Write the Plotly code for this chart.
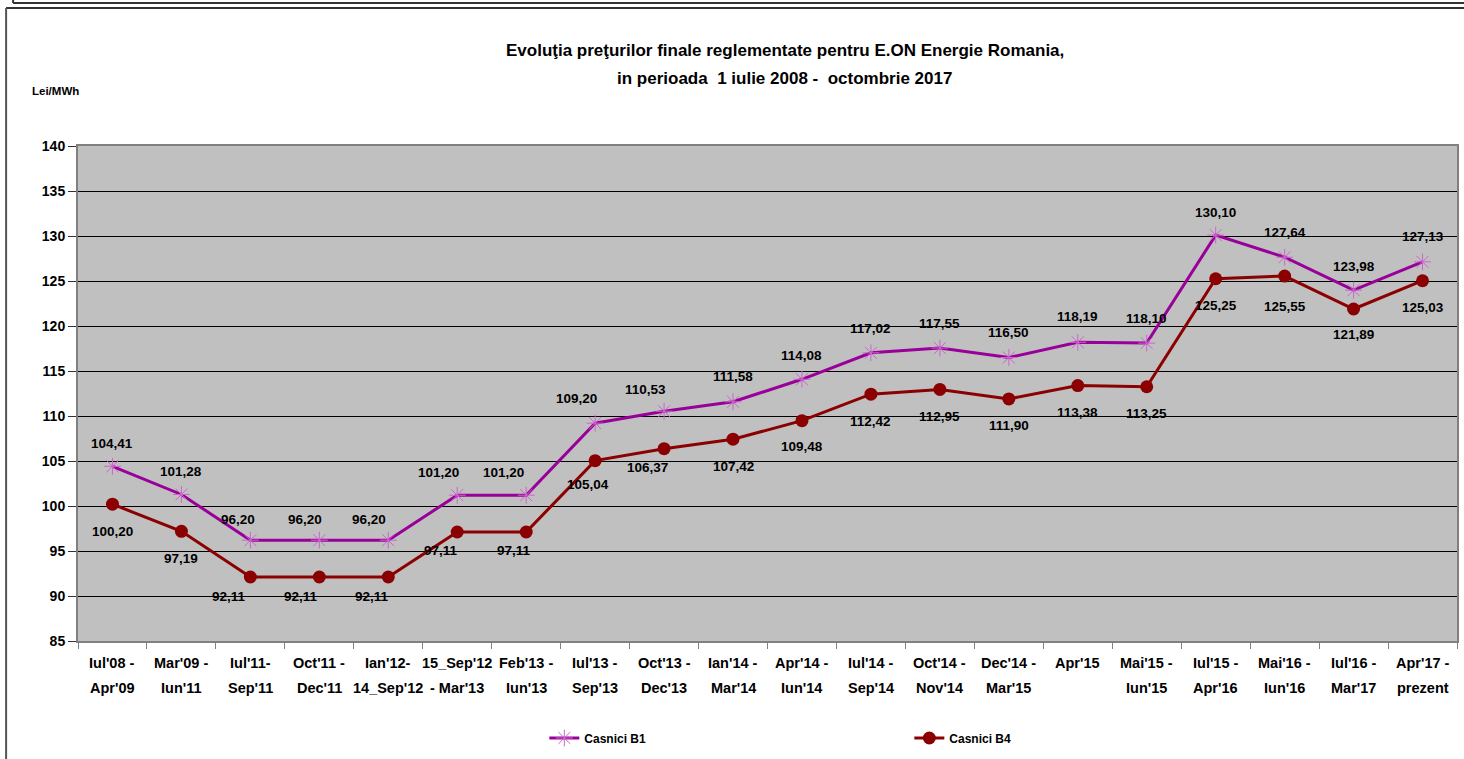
import plotly.graph_objects as go

label_line1 = [
    "Iul'08 -", "Mar'09 -", "Iul'11-", "Oct'11 -", "Ian'12-", "15_Sep'12", "Feb'13 -",
    "Iul'13 -", "Oct'13 -", "Ian'14 -", "Apr'14 -", "Iul'14 -", "Oct'14 -", "Dec'14 -",
    "Apr'15", "Mai'15 -", "Iul'15 -", "Mai'16 -", "Iul'16 -", "Apr'17 -",
]
label_line2 = [
    "Apr'09", "Iun'11", "Sep'11", "Dec'11", "14_Sep'12", "- Mar'13", "Iun'13",
    "Sep'13", "Dec'13", "Mar'14", "Iun'14", "Sep'14", "Nov'14", "Mar'15",
    "", "Iun'15", "Apr'16", "Iun'16", "Mar'17", "prezent",
]
categories = [a + " " + b for a, b in zip(label_line1, label_line2)]
b1_values = [104.41, 101.28, 96.20, 96.20, 96.20, 101.20, 101.20, 109.20, 110.53, 111.58,
             114.08, 117.02, 117.55, 116.50, 118.19, 118.10, 130.10, 127.64, 123.98, 127.13]
b4_values = [100.20, 97.19, 92.11, 92.11, 92.11, 97.11, 97.11, 105.04, 106.37, 107.42,
             109.48, 112.42, 112.95, 111.90, 113.38, 113.25, 125.25, 125.55, 121.89, 125.03]
y_ticks = [85, 90, 95, 100, 105, 110, 115, 120, 125, 130, 135, 140]

# label offsets (pixels) – styling only
b1_dx = [0, 0, -12, -14, -19, -19, -23, -19, -19, 0, 0, 0, 0, 0, 0, 0, 0, 0, 0, 0]
b1_dy = [23, 23, 21, 21, 21, 23, 23, 25, 22, 25, 24, 24, 25, 25, 26, 25, 23, 25, 24, 25]
b4_dx = [0, 0, -21, -18, -16, -16, -12, -7, -17, 0, 0, 0, 0, 0, 0, 0, 0, 0, 0, 0]
b4_dy = [27, 27, 19, 19, 19, 18, 18, 24, 19, 27, 26, 27, 27, 27, 27, 27, 27, 30, 26, 27]

FONT = "Liberation Sans, Arial, sans-serif"
W, H = 1464, 759
L, R, T, B = 78, 5, 146, 118
PW, PH = W - L - R, H - T - B


def px(x):
    return (x - L) / PW


def py(y):
    return (H - B - y) / PH


def fmt(v):
    return f"{v:.2f}".replace(".", ",")


def bold(size):
    return dict(family=FONT, size=size, color="#000000", weight="bold")


fig = go.Figure()
fig.add_trace(go.Scatter(
    x=categories, y=b1_values, name="Casnici B1", mode="lines+markers",
    line=dict(color="#990099", width=3),
    marker=dict(symbol="asterisk-open", size=14, color="#CC66CC", line=dict(color="#CC66CC", width=1)),
))
fig.add_trace(go.Scatter(
    x=categories, y=b4_values, name="Casnici B4", mode="lines+markers",
    line=dict(color="#8B0000", width=3),
    marker=dict(symbol="circle", size=13, color="#8B0000"),
))

annotations = []
for i, c in enumerate(categories):
    annotations.append(dict(x=c, y=b1_values[i], text=fmt(b1_values[i]), showarrow=False,
                            xanchor="center", yanchor="middle",
                            xshift=b1_dx[i], yshift=b1_dy[i], font=bold(13.5)))
    annotations.append(dict(x=c, y=b4_values[i], text=fmt(b4_values[i]), showarrow=False,
                            xanchor="center", yanchor="middle",
                            xshift=b4_dx[i], yshift=-b4_dy[i], font=bold(13.5)))
    annotations.append(dict(x=c, xref="x", yref="paper", y=0, yshift=-22, text=label_line1[i],
                            showarrow=False, xanchor="center", yanchor="middle", font=bold(14.5)))
    if label_line2[i]:
        annotations.append(dict(x=c, xref="x", yref="paper", y=0, yshift=-47, text=label_line2[i],
                                showarrow=False, xanchor="center", yanchor="middle", font=bold(14.5)))

annotations.append(dict(xref="paper", yref="paper", x=px(786), y=py(50),
                        text="Evoluţia preţurilor finale reglementate pentru E.ON Energie Romania,",
                        showarrow=False, xanchor="center", yanchor="middle", font=bold(17)))
annotations.append(dict(xref="paper", yref="paper", x=px(786), y=py(78),
                        text="in perioada  1 iulie 2008 -  octombrie 2017",
                        showarrow=False, xanchor="center", yanchor="middle", font=bold(17)))
annotations.append(dict(xref="paper", yref="paper", x=px(30), y=py(91),
                        text="Lei/MWh", showarrow=False, xanchor="left", yanchor="middle",
                        font=bold(11.5)))

shapes = [
    dict(type="line", xref="paper", yref="paper", x0=px(13), x1=px(1470), y0=py(3), y1=py(3),
         line=dict(color="#333333", width=2)),
    dict(type="line", xref="paper", yref="paper", x0=px(13), x1=px(13), y0=py(-5), y1=py(3),
         line=dict(color="#333333", width=2)),
    dict(type="line", xref="paper", yref="paper", x0=px(6), x1=px(1470), y0=py(8), y1=py(8),
         line=dict(color="#333333", width=2)),
    dict(type="line", xref="paper", yref="paper", x0=px(6), x1=px(6), y0=py(8), y1=py(770),
         line=dict(color="#555555", width=2)),
]

fig.update_layout(
    width=W, height=H,
    margin=dict(l=L, r=R, t=T, b=B),
    paper_bgcolor="#FFFFFF", plot_bgcolor="#C0C0C0",
    font=dict(family=FONT, size=14, color="#000000"),
    showlegend=True,
    legend=dict(orientation="h", x=px(545), y=py(738), xanchor="left", yanchor="middle",
                entrywidth=320, entrywidthmode="pixels", bgcolor="rgba(0,0,0,0)",
                font=bold(12), itemwidth=30),
    annotations=annotations, shapes=shapes,
)
fig.update_xaxes(
    type="category", range=[-0.5, len(categories) - 0.5],
    tickson="boundaries", ticks="outside", ticklen=6, tickcolor="#808080",
    showline=True, linecolor="#808080", linewidth=2, mirror=True, showgrid=False,
    showticklabels=False,
)
fig.update_yaxes(
    range=[85, 140], tickvals=y_ticks, ticks="outside", ticklen=8, tickcolor="#333333",
    showline=True, linecolor="#808080", linewidth=2, mirror=True,
    showgrid=True, gridcolor="#000000", gridwidth=1, zeroline=False,
    tickfont=bold(14),
)

fig.write_html("out.html", config={"displayModeBar": False},
               post_script="document.body.style.margin='0px';")
